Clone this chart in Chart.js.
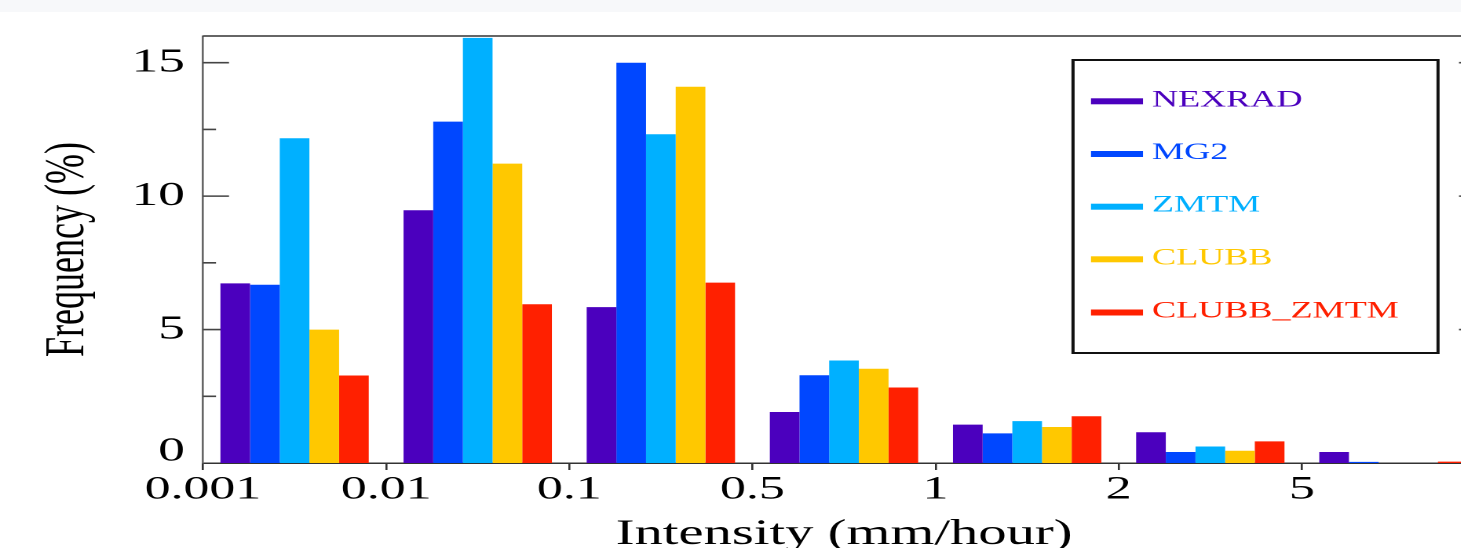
<!DOCTYPE html>
<html><head><meta charset="utf-8">
<script src="https://cdn.jsdelivr.net/npm/chart.js@4.4.1/dist/chart.umd.min.js"></script>
<style>
html,body{margin:0;padding:0;background:#fff;overflow:hidden;width:1461px;height:548px;}
#band{position:absolute;left:0;top:0;width:1461px;height:12px;background:#f7f8fa;z-index:2}
#wrap{position:absolute;left:0;top:0;transform-origin:0 0;}
canvas{display:block}
</style></head><body>
<div id="band"></div>
<div id="wrap"><canvas id="c"></canvas></div>
<script>
// ---- data ----
const categories = ['0.001', '0.01', '0.1', '0.5', '1', '2', '5'];
const seriesNames = ['NEXRAD', 'MG2', 'ZMTM', 'CLUBB', 'CLUBB_ZMTM'];
const NEXRAD     = [6.73, 9.47, 5.84, 1.91, 1.44, 1.15, 0.41];
const MG2        = [6.68, 12.79, 15.0, 3.29, 1.11, 0.41, 0.04];
const ZMTM       = [12.17, 15.93, 12.32, 3.84, 1.57, 0.62, 0];
const CLUBB      = [5.0, 11.22, 14.1, 3.53, 1.35, 0.46, 0];
const CLUBB_ZMTM = [3.28, 5.95, 6.76, 2.83, 1.75, 0.81, 0.05];
const yMajorTicks = [5, 10, 15];
const yMinorTicks = [2.5, 7.5, 12.5];
const seriesColors = ['#4B00BE', '#0047FF', '#00B0FF', '#FFC800', '#FF2000'];

// ---- geometry (canvas is stretched horizontally by S) ----
const S = 1.57;
const H = 570;
const W = Math.round(1500 / S);
const LEFT = 203 / S, RIGHT = 1485 / S, TOP = 36, BOTTOM = 463;
const BINW = (RIGHT - LEFT) / categories.length;

const wrap = document.getElementById('wrap');
wrap.style.width = W + 'px';
wrap.style.height = H + 'px';
wrap.style.transform = 'scaleX(' + S + ')';
const cv = document.getElementById('c');
cv.width = W; cv.height = H;

const FONT = 'Liberation Serif';

const framePlugin = {
  id: 'frame',
  beforeDatasetsDraw(chart) {
    const {ctx, chartArea: a, scales: {y}} = chart;
    ctx.save();
    ctx.strokeStyle = '#333';
    ctx.lineWidth = 1.6;
    ctx.beginPath();
    ctx.moveTo(a.left, a.top); ctx.lineTo(a.right, a.top);
    ctx.moveTo(a.right, a.top); ctx.lineTo(a.right, a.bottom);
    ctx.stroke();
    ctx.strokeStyle = '#444';
    ctx.lineWidth = 1.6;
    const drawT = (v, len) => {
      const py = y.getPixelForValue(v);
      ctx.beginPath();
      ctx.moveTo(a.left, py); ctx.lineTo(a.left + len, py);
      ctx.moveTo(a.right, py); ctx.lineTo(a.right - len, py);
      ctx.stroke();
    };
    yMajorTicks.forEach(v => drawT(v, 26 / S));
    yMinorTicks.forEach(v => drawT(v, 13 / S));
    ctx.restore();
  },
  afterDraw(chart) {
    const {ctx} = chart;
    ctx.save();
    const bl = 1073 / S, br = 1438 / S, bt = 60, bb = 353;
    ctx.fillStyle = '#fff';
    ctx.fillRect(bl, bt, br - bl, bb - bt);
    ctx.strokeStyle = '#111';
    ctx.lineWidth = 2;
    ctx.strokeRect(bl, bt, br - bl, bb - bt);
    const rows = [101.3, 154, 206.7, 259.3, 312.5];
    chart.data.datasets.forEach((ds, i) => {
      const cy = rows[i];
      ctx.fillStyle = ds.backgroundColor;
      ctx.fillRect(1091 / S, cy - 3, 52 / S, 6);
      ctx.font = '23px "' + FONT + '"';
      ctx.textBaseline = 'alphabetic';
      ctx.textAlign = 'left';
      ctx.fillText(ds.label, 1152 / S, cy + 5);
    });
    ctx.restore();
  }
};

const seriesData = [NEXRAD, MG2, ZMTM, CLUBB, CLUBB_ZMTM];

new Chart(cv, {
  type: 'bar',
  data: {
    labels: categories,
    datasets: seriesNames.map((n, i) => ({
      label: n,
      data: seriesData[i],
      backgroundColor: seriesColors[i],
      borderWidth: 0,
      categoryPercentage: 0.81,
      barPercentage: 1.0
    }))
  },
  options: {
    responsive: false,
    animation: false,
    devicePixelRatio: 2,
    layout: {padding: {top: TOP, left: 0, bottom: 0, right: W - RIGHT}},
    plugins: {legend: {display: false}, tooltip: {enabled: false}},
    scales: {
      x: {
        type: 'category',
        offset: true,
        grid: {display: true, drawOnChartArea: false, drawTicks: true, tickLength: 7, color: '#333', lineWidth: 1.3, offset: true},
        border: {display: true, color: '#333', width: 1.5},
        ticks: {font: {family: FONT, size: 33}, color: '#000', padding: 0, labelOffset: -BINW / 2, maxRotation: 0, autoSkip: false},
        title: {display: true, text: 'Intensity (mm/hour)', font: {family: FONT, size: 36}, color: '#000', padding: {top: 0, bottom: 14}},
        afterFit(s) { s.height = H - BOTTOM; }
      },
      y: {
        min: 0, max: 16,
        grid: {display: false, drawTicks: false},
        border: {display: true, color: '#666', width: 1.3},
        ticks: {stepSize: 5, includeBounds: false, font: {family: FONT, size: 34, lineHeight: 0.67}, color: '#000', padding: 11.5,
                callback: (v) => v === 0 ? ['0', ''] : String(v)},
        title: {display: true, text: 'Frequency (%)', font: {family: FONT, size: 36}, color: '#000', padding: {top: 22, bottom: 0}},
        afterFit(s) { s.width = LEFT; }
      }
    }
  },
  plugins: [framePlugin]
});
</script>
</body></html>
